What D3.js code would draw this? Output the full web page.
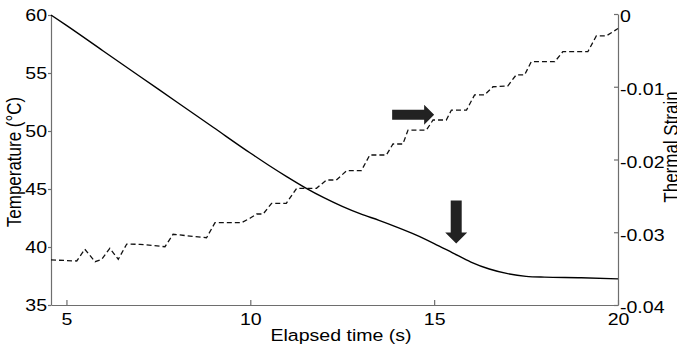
<!DOCTYPE html>
<html>
<head>
<meta charset="utf-8">
<script src="https://cdn.jsdelivr.net/npm/d3@7"></script>
<style>
  body { margin: 0; background: #fff; }
  text { font-family: "Liberation Sans", Arial, sans-serif; fill: #000; }
  .axis path, .axis line { stroke: #6e6e6e; stroke-width: 1.2; }
</style>
</head>
<body>
<script>
// temperature curve (left axis)
var tempTime  = [4.58, 5, 6, 7, 8, 9, 10, 10.5, 11, 11.5, 12, 12.5, 13, 13.5, 14, 14.5, 15, 15.5, 16, 16.5, 17, 17.5, 18, 19, 20];
var tempValue = [60, 59.1, 56.9, 54.7, 52.5, 50.3, 48.1, 47.05, 46.05, 45.1, 44.25, 43.5, 42.85, 42.3, 41.7, 41.05, 40.3, 39.5, 38.7, 38.1, 37.7, 37.47, 37.4, 37.35, 37.25];

// thermal strain (right axis), stepped dashed line
var strainTime  = [4.58, 5.28, 5.50, 5.78, 5.96, 6.18, 6.41, 6.64, 7.00, 7.68, 7.90, 8.36, 8.81, 9.04, 9.76, 9.99,
                   10.17, 10.35, 10.58, 10.98, 11.26, 11.80, 12.07, 12.34, 12.62, 13.02, 13.25, 13.70, 13.88, 14.15,
                   14.29, 14.79, 14.97, 15.33, 15.47, 15.88, 16.10, 16.37, 16.60, 17.00, 17.23, 17.46, 17.64, 18.28,
                   18.50, 19.18, 19.41, 19.68, 20.0];
var strainValue = [-0.0338, -0.03395, -0.03234, -0.03405, -0.03372, -0.03221, -0.03372, -0.03162, -0.03166, -0.03199,
                   -0.03028, -0.03052, -0.03075, -0.02869, -0.02869, -0.02808, -0.02749, -0.02749, -0.02602, -0.02602,
                   -0.02396, -0.02396, -0.02282, -0.02282, -0.02154, -0.02154, -0.01938, -0.01938, -0.01787, -0.01787,
                   -0.01595, -0.01595, -0.01457, -0.01457, -0.0132, -0.0132, -0.01113, -0.01113, -0.0100, -0.0099,
                   -0.00838, -0.00838, -0.00656, -0.00656, -0.00518, -0.00518, -0.00302, -0.00302, -0.0020];

// tick labels
var xTicks = [5, 10, 15, 20];
var leftTicks = [35, 40, 45, 50, 55, 60];
var rightTicks = [0, -0.01, -0.02, -0.03, -0.04];

// annotation arrows (tip position in data units)
var arrowTips = [
    {dir: "right", t: 15.0, temp: 51.4},
    {dir: "down",  t: 15.6, temp: 40.3}
];

var width = 677, height = 348;
var sx = 1.15; // the original's text looks slightly stretched sideways

var svg = d3.select("body").append("svg")
    .attr("width", width)
    .attr("height", height);

var x = d3.scaleLinear().domain([4.58, 20]).range([51, 618]);
var yL = d3.scaleLinear().domain([35, 60]).range([305, 15]);
var yR = d3.scaleLinear().domain([-0.04, 0]).range([305, 14]);

//axes
var gx = svg.append("g").attr("class", "axis")
    .attr("transform", "translate(0,305)")
    .call(d3.axisBottom(x).tickValues(xTicks).tickSizeInner(-5).tickSizeOuter(0).tickFormat(d3.format("d")));

var gl = svg.append("g").attr("class", "axis")
    .attr("transform", "translate(51,0)")
    .call(d3.axisLeft(yL).tickValues(leftTicks).tickSizeInner(3).tickSizeOuter(0));

var gr = svg.append("g").attr("class", "axis")
    .attr("transform", "translate(618,0)")
    .call(d3.axisRight(yR).tickValues(rightTicks).tickSizeInner(-4).tickSizeOuter(0)
        .tickFormat(function(d){ return d === 0 ? "0" : d3.format(".2f")(d).replace("\u2212", "-"); }));

svg.selectAll(".axis text").attr("font-size", 17).attr("font-family", null);

gx.selectAll("text")
    .attr("y", 20).attr("dy", null)
    .attr("transform", "scale(" + sx + ",1)");

gl.selectAll("text")
    .attr("x", -4 / sx).attr("dy", "0.35em")
    .attr("transform", "scale(" + sx + ",1)");

gr.selectAll("text")
    .attr("x", 2 / sx).attr("y", 2).attr("dy", "0.35em")
    .attr("transform", "scale(" + sx + ",1)");

//lines
var tempLine = d3.line()
    .x(function(d, i){ return x(tempTime[i]); })
    .y(function(d){ return yL(d); })
    .curve(d3.curveMonotoneX);

svg.append("path")
    .datum(tempValue)
    .attr("d", tempLine)
    .attr("fill", "none")
    .attr("stroke", "#000")
    .attr("stroke-width", 1.4);

var strainLine = d3.line()
    .x(function(d, i){ return x(strainTime[i]); })
    .y(function(d){ return yR(d); });

svg.append("path")
    .datum(strainValue)
    .attr("d", strainLine)
    .attr("fill", "none")
    .attr("stroke", "#111")
    .attr("stroke-width", 1.3)
    .attr("stroke-dasharray", "5,3");

//arrows
svg.selectAll(".arrow")
    .data(arrowTips)
    .enter()
    .append("path")
    .attr("class", "arrow")
    .attr("fill", "#222")
    .attr("d", function(d){
        var tx = x(d.t), ty = yL(d.temp);
        var pts;
        if (d.dir === "right") {
            pts = [[tx, ty], [tx - 10, ty - 10], [tx - 10, ty - 5], [tx - 42, ty - 5],
                   [tx - 42, ty + 5], [tx - 10, ty + 5], [tx - 10, ty + 10]];
        } else {
            pts = [[tx, ty], [tx - 11, ty - 11], [tx - 5.5, ty - 11], [tx - 5.5, ty - 43],
                   [tx + 5.5, ty - 43], [tx + 5.5, ty - 11], [tx + 11, ty - 11]];
        }
        return "M" + pts.join("L") + "Z";
    });

//axis titles
svg.append("text")
    .attr("transform", "translate(341,341) scale(" + sx + ",1)")
    .attr("text-anchor", "middle")
    .attr("font-size", 17)
    .text("Elapsed time (s)");

svg.append("text")
    .attr("transform", "translate(21,162) scale(" + sx + ",1) rotate(-90)")
    .attr("text-anchor", "middle")
    .attr("font-size", 17)
    .text("Temperature (°C)");

svg.append("text")
    .attr("transform", "translate(678,147) scale(" + sx + ",1) rotate(-90)")
    .attr("text-anchor", "middle")
    .attr("font-size", 17)
    .text("Thermal Strain");
</script>
</body>
</html>
